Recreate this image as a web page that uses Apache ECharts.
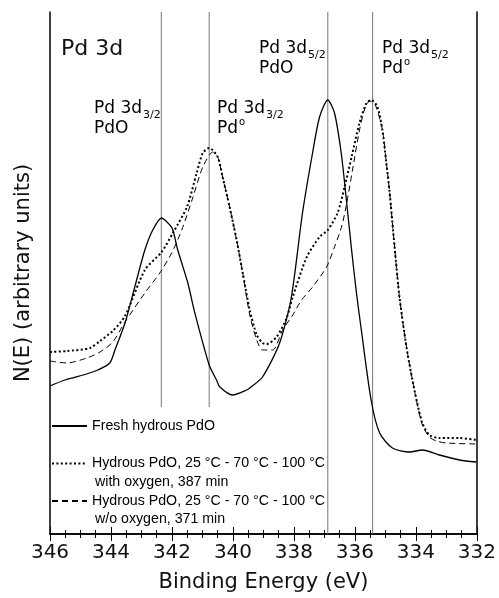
<!DOCTYPE html>
<html><head><meta charset="utf-8">
<script src="https://cdn.jsdelivr.net/npm/echarts@6/dist/echarts.min.js"></script>
<style>html,body{margin:0;padding:0;background:#fff}#c{width:499px;height:598px}</style>
</head><body><div id="c"></div>
<script>
// Axis range (binding energy, eV) and tick step
const xMin = 332, xMax = 346, xStep = 2;
const yMin = 0, yMax = 522;

// Fresh hydrous PdO (solid)
const freshEV = [346.00, 345.51, 344.80, 344.43, 344.04, 343.87, 343.54, 343.22, 342.89, 342.63, 342.34, 342.07, 341.97, 341.81, 341.48, 341.25, 340.78, 340.54, 340.43, 340.01, 339.55, 339.45, 339.03, 338.47, 338.09, 337.72, 337.39, 337.16, 336.89, 336.67, 336.45, 336.29, 336.12, 335.95, 335.79, 335.47, 335.19, 334.77, 334.21, 333.79, 333.23, 332.57, 332.02];
const freshN = [148, 154, 160, 164, 171, 184, 211, 247, 284, 304, 316, 309, 304, 284, 251, 221, 169, 154, 147, 139, 144, 146, 157, 191, 236, 321, 381, 417, 434, 421, 381, 337, 287, 241, 204, 134, 101, 86, 82, 84, 79, 74, 72];

// Hydrous PdO with oxygen, 387 min (dotted)
const oxyEV = [346.00, 345.44, 344.69, 344.36, 343.94, 343.54, 342.89, 342.34, 341.97, 341.51, 341.19, 340.99, 340.78, 340.50, 340.34, 340.11, 339.88, 339.68, 339.45, 339.22, 339.03, 338.89, 338.57, 338.24, 338.04, 337.58, 337.16, 336.89, 336.57, 336.34, 336.11, 335.85, 335.62, 335.46, 335.26, 335.10, 334.97, 334.87, 334.70, 334.54, 334.31, 334.05, 333.79, 333.56, 333.23, 332.57, 332.02];
const oxyN = [182, 183, 186, 193, 203, 218, 264, 282, 301, 327, 361, 381, 386, 377, 357, 327, 294, 261, 224, 199, 191, 190, 197, 216, 237, 277, 297, 304, 321, 347, 377, 411, 431, 434, 427, 404, 371, 344, 287, 237, 187, 144, 111, 99, 96, 96, 94];

// Hydrous PdO w/o oxygen, 371 min (dashed)
const noOxyEV = [346.00, 345.44, 344.79, 344.36, 343.94, 343.54, 342.89, 342.40, 342.01, 341.68, 341.32, 340.99, 340.66, 340.50, 340.34, 340.11, 339.88, 339.68, 339.45, 339.22, 339.03, 338.70, 338.37, 338.04, 337.75, 337.39, 336.93, 336.67, 336.44, 336.28, 336.08, 335.85, 335.69, 335.52, 335.33, 335.10, 334.97, 334.87, 334.70, 334.54, 334.31, 334.05, 333.79, 333.56, 333.33, 333.00, 332.02];
const noOxyN = [173, 171, 176, 182, 192, 212, 241, 261, 281, 304, 336, 367, 382, 377, 357, 327, 294, 261, 219, 194, 184, 184, 204, 219, 234, 247, 267, 287, 307, 329, 364, 404, 424, 433, 429, 404, 371, 344, 287, 237, 187, 144, 109, 97, 93, 91, 90];

const seriesNames = [
  'Fresh hydrous PdO',
  'Hydrous PdO, 25 °C - 70 °C - 100 °C\nwith oxygen, 387 min',
  'Hydrous PdO, 25 °C - 70 °C - 100 °C\nw/o oxygen, 371 min'
];

// Reference peak positions (eV) and where each guide line starts (N(E))
const peakEV = [342.35, 340.78, 336.89, 335.42];
const peakLineFrom = [127, 127, 0, 0];

const FONT = 'DejaVu Sans';
const zip = (a, b) => a.map((v, i) => [v, b[i]]);

const chart = echarts.init(document.getElementById('c'), null, {renderer: 'canvas'});

const guideSeries = peakEV.map((e, i) => ({
  type: 'line', silent: true, symbol: 'none', animation: false, z: 1,
  data: [[e, peakLineFrom[i]], [e, yMax]],
  lineStyle: {color: '#777', width: 1}
}));

const curveStyles = [
  {color: '#000', width: 1.3, type: 'solid'},
  {color: '#000', width: 2, type: [2, 2.4]},
  {color: '#000', width: 1, type: [6, 4]}
];
const curveData = [zip(freshEV, freshN), zip(oxyEV, oxyN), zip(noOxyEV, noOxyN)];

const curveSeries = curveData.map((d, i) => ({
  name: seriesNames[i], type: 'line', symbol: 'none', smooth: 0.25,
  animation: false, z: 3, data: d,
  itemStyle: {color: '#000'},
  lineStyle: curveStyles[i]
}));

const axisLbl = {fontFamily: FONT, fontSize: 20, color: '#111'};

chart.setOption({
  backgroundColor: '#fff',
  animation: false,
  grid: {left: 50, right: 21.5, top: 12, bottom: 64, containLabel: false},
  legend: {
    orient: 'vertical', left: 51, top: 419, padding: 0,
    itemWidth: 35, itemHeight: 14, itemGap: 23.5,
    data: seriesNames,
    formatter: n => n.split('\n')[0],
    itemStyle: {opacity: 0},
    textStyle: {fontFamily: 'Liberation Sans', fontSize: 14.2, color: '#000', lineHeight: 14},
    selectedMode: false
  },
  xAxis: [{
    type: 'value', min: xMin, max: xMax, interval: xStep, inverse: true,
    position: 'bottom',
    name: 'Binding Energy (eV)', nameLocation: 'middle', nameGap: 38,
    nameTextStyle: {fontFamily: FONT, fontSize: 21, color: '#111'},
    axisLine: {lineStyle: {color: '#000', width: 1.5}},
    axisTick: {inside: true, length: 7, lineStyle: {color: '#000'}},
    minorTick: {show: true, splitNumber: 4, length: 4, lineStyle: {color: '#000'}},
    axisLabel: Object.assign({margin: 9}, axisLbl),
    splitLine: {show: false}
  }, {
    type: 'value', min: xMin, max: xMax, interval: xStep, inverse: true,
    position: 'top',
    axisLine: {lineStyle: {color: '#000', width: 1.5}},
    axisTick: {inside: true, length: 7, lineStyle: {color: '#000'}},
    minorTick: {show: true, splitNumber: 4, length: 4, lineStyle: {color: '#000'}},
    axisLabel: {show: false},
    splitLine: {show: false}
  }],
  yAxis: [{
    type: 'value', min: yMin, max: yMax, position: 'left',
    name: 'N(E) (arbitrary units)', nameLocation: 'middle', nameGap: 16,
    nameTextStyle: {fontFamily: FONT, fontSize: 21, color: '#111'},
    axisLine: {show: true, lineStyle: {color: '#000', width: 1.5}},
    axisTick: {show: false}, axisLabel: {show: false}, splitLine: {show: false}
  }, {
    type: 'value', min: yMin, max: yMax, position: 'right',
    axisLine: {show: true, lineStyle: {color: '#000', width: 1.5}},
    axisTick: {show: false}, axisLabel: {show: false}, splitLine: {show: false}
  }],
  series: guideSeries.concat(curveSeries),
  graphic: (function () {
    const g = [];
    const col = '#111';
    const a = {fontFamily: FONT, fontSize: 17, verticalAlign: 'top', color: col};
    const aLow = {fontFamily: FONT, fontSize: 17, verticalAlign: 'top', color: col, padding: [3, 0, 0, 0]};
    const sub = {fontFamily: FONT, fontSize: 11, verticalAlign: 'top', color: col, padding: [10, 0, 0, 1]};
    const sup = {fontFamily: FONT, fontSize: 10, verticalAlign: 'top', color: col, padding: [0, 0, 0, 1]};
    g.push({type: 'text', x: 61, y: 36, style: {text: 'Pd 3d', fontFamily: FONT, fontSize: 22, lineHeight: 26, fill: col}});
    const ann = [
      {x: 94, y: 100, l1: '{a|Pd 3d}{s|3/2}', l2: '{b|PdO}'},
      {x: 217, y: 100, l1: '{a|Pd 3d}{s|3/2}', l2: '{b|Pd}{o|o}'},
      {x: 259, y: 40, l1: '{a|Pd 3d}{s|5/2}', l2: '{b|PdO}'},
      {x: 382, y: 40, l1: '{a|Pd 3d}{s|5/2}', l2: '{b|Pd}{o|o}'}
    ];
    ann.forEach(t => {
      g.push({type: 'text', x: t.x, y: t.y, style: {text: t.l1, verticalAlign: 'top', rich: {a: a, s: sub}}});
      g.push({type: 'text', x: t.x, y: t.y + 17, style: {text: t.l2, verticalAlign: 'top', rich: {b: aLow, o: sup}}});
    });
    // second lines of the legend entries
    [[95, 482, seriesNames[1]], [95, 519.5, seriesNames[2]]].forEach(t => g.push({
      type: 'text', x: t[0], y: t[1],
      style: {text: t[2].split('\n')[1], fontFamily: 'Liberation Sans', fontSize: 14.2, fill: '#000', verticalAlign: 'middle'}
    }));
    return g;
  })()
});
</script></body></html>
